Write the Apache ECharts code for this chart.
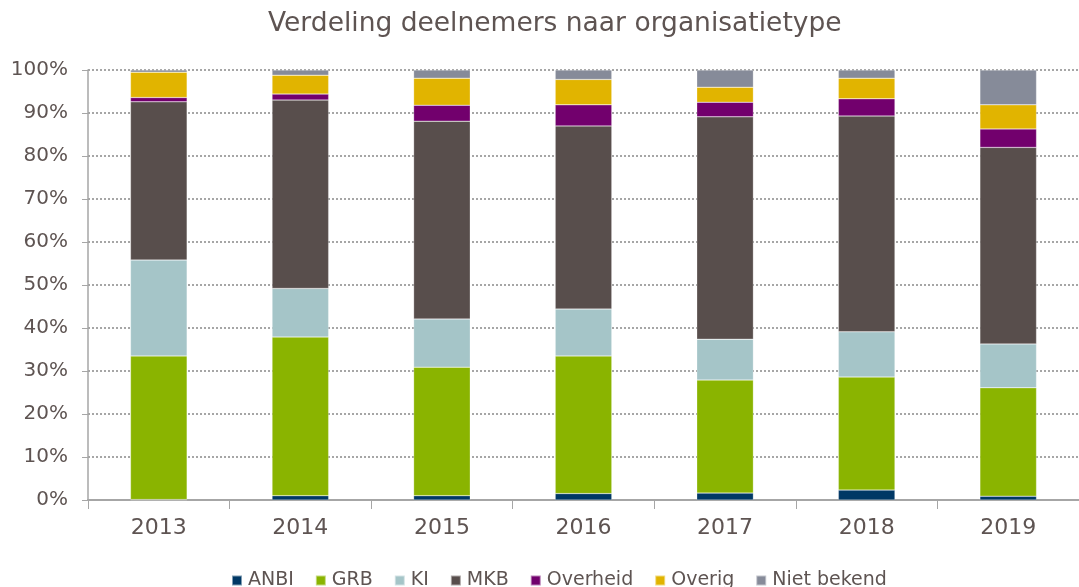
<!DOCTYPE html>
<html>
<head>
<meta charset="utf-8">
<script src="https://cdn.jsdelivr.net/npm/echarts@6/dist/echarts.min.js"></script>
<style>
  html, body { margin: 0; padding: 0; background: #fff; }
  #chart { width: 1079px; height: 587px; }
</style>
</head>
<body>
<div id="chart"></div>
<script>
// ------------------------------
// Data (percentages per year)
// ------------------------------
var years = ['2013', '2014', '2015', '2016', '2017', '2018', '2019'];

var anbi       = [0.1, 1.0, 1.0, 1.5, 1.6, 2.3, 0.9];
var grb        = [33.4, 36.9, 29.9, 32.0, 26.3, 26.3, 25.2];
var ki         = [22.3, 11.3, 11.2, 10.9, 9.5, 10.5, 10.2];
var mkb        = [36.8, 43.8, 46.0, 42.6, 51.7, 50.2, 45.7];
var overheid   = [1.0, 1.4, 3.7, 4.9, 3.4, 4.0, 4.3];
var overig     = [5.9, 4.4, 6.3, 5.9, 3.5, 4.8, 5.6];
var nietBekend = [0.5, 1.2, 1.9, 2.2, 4.0, 1.9, 8.1];

var yTicks = ['0%', '10%', '20%', '30%', '40%', '50%', '60%', '70%', '80%', '90%', '100%'];

var seriesNames  = ['ANBI', 'GRB', 'KI', 'MKB', 'Overheid', 'Overig', 'Niet bekend'];
var seriesData   = [anbi, grb, ki, mkb, overheid, overig, nietBekend];
var seriesColors = ['#003865', '#8AB400', '#A5C5C8', '#584E4C', '#72006D', '#E1B400', '#868B99'];

var textColor = '#5E5452';
var axisColor = '#A6A6A6';
var font = 'DejaVu Sans';

var chart = echarts.init(document.getElementById('chart'));

var option = {
    animation: false,
    color: seriesColors,
    title: {
        text: 'Verdeling deelnemers naar organisatietype',
        left: 263,
        top: 6,
        textStyle: { fontFamily: font, fontSize: 26.5, fontWeight: 'normal', color: textColor }
    },
    grid: { left: 88, right: 0, top: 70, bottom: 87, containLabel: false },
    legend: {
        data: seriesNames,
        top: 566,
        left: 226,
        icon: 'rect',
        itemWidth: 10,
        itemHeight: 10,
        itemGap: 21,
        textStyle: { fontFamily: font, fontSize: 19, color: textColor, padding: [0, 0, 0, 1] }
    },
    xAxis: {
        type: 'category',
        data: years,
        axisLine: { lineStyle: { color: axisColor, width: 2 } },
        axisTick: { show: true, length: 9, lineStyle: { color: axisColor } },
        axisLabel: { fontFamily: font, fontSize: 22, color: textColor, margin: 17 }
    },
    yAxis: {
        type: 'value',
        min: 0,
        max: 100,
        interval: 10,
        axisLine: { show: true, lineStyle: { color: axisColor, width: 1.5 } },
        axisTick: { show: true, length: 6, lineStyle: { color: axisColor } },
        axisLabel: {
            fontFamily: font, fontSize: 20, color: textColor, margin: 20,
            formatter: function (v) { return yTicks[Math.round(v / 10)]; }
        },
        splitLine: { lineStyle: { color: axisColor, type: [2, 2], width: 2 } }
    },
    series: seriesNames.map(function (name, i) {
        return {
            name: name,
            type: 'bar',
            stack: 'Total',
            barCategoryGap: '60%',
            itemStyle: { borderColor: 'rgba(255,255,255,0.5)', borderWidth: 0.5 },
            data: seriesData[i]
        };
    })
};

chart.setOption(option);
</script>
</body>
</html>
